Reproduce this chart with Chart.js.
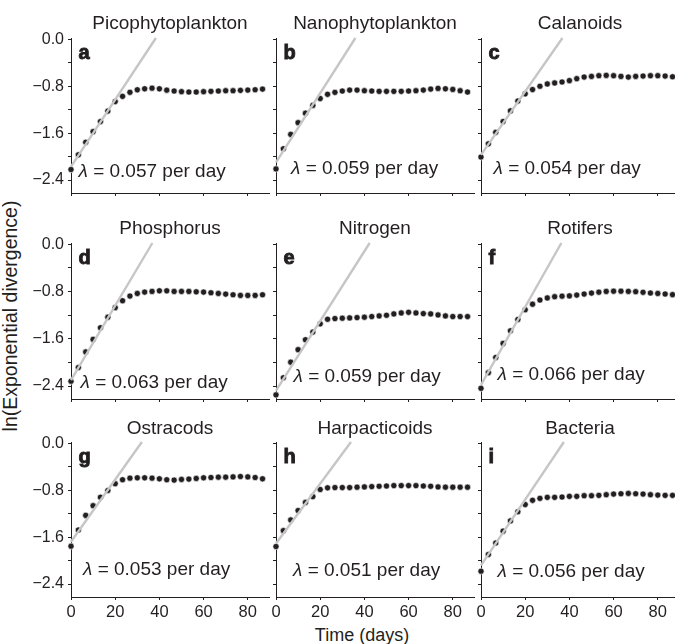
<!DOCTYPE html>
<html><head><meta charset="utf-8">
<script src="https://cdn.jsdelivr.net/npm/chart.js@4"></script>
<style>
html,body{margin:0;padding:0;width:675px;height:644px;overflow:hidden;background:#fff;position:relative;}
canvas{position:absolute;}
.lbl{position:absolute;font-family:"Liberation Sans",Arial,sans-serif;color:#231f20;font-size:18px;white-space:nowrap;}
</style></head><body>
<div class="lbl" style="left:10px;top:316px;font-size:19.5px;transform:translate(-50%,-50%) rotate(-90deg);">ln(Exponential divergence)</div>
<div class="lbl" style="left:362px;top:635px;transform:translate(-50%,-50%);">Time (days)</div>
<script>
// ---------- data ----------
const days = [0, 3.33, 6.67, 10, 13.33, 16.67, 20, 23.33, 26.67, 30, 33.33, 36.67, 40, 43.33, 46.67, 50, 53.33, 56.67, 60, 63.33, 66.67, 70, 73.33, 76.67, 80, 83.33, 86.67];
const titles = ["Picophytoplankton", "Nanophytoplankton", "Calanoids", "Phosphorus", "Nitrogen", "Rotifers", "Ostracods", "Harpacticoids", "Bacteria"];
const letters = ["a", "b", "c", "d", "e", "f", "g", "h", "i"];
const lambdas = [0.057, 0.059, 0.054, 0.063, 0.059, 0.066, 0.053, 0.051, 0.056];
const intercepts = [-2.17, -2.10, -1.97, -2.30, -2.48, -2.38, -1.68, -1.71, -2.08];
const xTicks = [0, 20, 40, 60, 80];
const yTicks = [-2.4, -2.0, -1.6, -1.2, -0.8, -0.4, 0.0];
const yLabelled = [-2.4, -1.6, -0.8, 0.0];

const pico = [-2.22, -1.97, -1.756, -1.575, -1.404, -1.225, -1.063, -0.974, -0.905, -0.862, -0.845, -0.835, -0.845, -0.868, -0.883, -0.894, -0.9, -0.9, -0.894, -0.889, -0.883, -0.878, -0.878, -0.872, -0.867, -0.861, -0.85];
const nano = [-2.21, -1.867, -1.622, -1.422, -1.261, -1.128, -1.011, -0.939, -0.906, -0.883, -0.867, -0.867, -0.878, -0.883, -0.889, -0.889, -0.889, -0.889, -0.883, -0.878, -0.867, -0.85, -0.839, -0.845, -0.856, -0.878, -0.9];
const calanoids = [-2.007, -1.783, -1.587, -1.402, -1.222, -1.054, -0.931, -0.858, -0.802, -0.763, -0.746, -0.729, -0.706, -0.673, -0.645, -0.634, -0.622, -0.617, -0.622, -0.634, -0.645, -0.634, -0.628, -0.622, -0.622, -0.628, -0.64];
const phosphorus = [-2.32, -2.087, -1.824, -1.611, -1.415, -1.236, -1.074, -0.957, -0.878, -0.834, -0.811, -0.8, -0.789, -0.789, -0.8, -0.8, -0.8, -0.806, -0.811, -0.822, -0.834, -0.845, -0.856, -0.867, -0.867, -0.867, -0.856];
const nitrogen = [-2.55, -2.26, -1.997, -1.785, -1.617, -1.488, -1.348, -1.27, -1.259, -1.253, -1.248, -1.242, -1.236, -1.225, -1.214, -1.203, -1.18, -1.164, -1.153, -1.164, -1.175, -1.18, -1.197, -1.214, -1.225, -1.225, -1.225];
const rotifers = [-2.44, -2.175, -1.918, -1.68, -1.467, -1.275, -1.11, -1.016, -0.945, -0.91, -0.889, -0.88, -0.875, -0.861, -0.844, -0.827, -0.812, -0.8, -0.796, -0.796, -0.799, -0.804, -0.814, -0.826, -0.834, -0.843, -0.854];
const ostracods = [-1.755, -1.479, -1.23, -1.065, -0.921, -0.806, -0.69, -0.623, -0.596, -0.59, -0.59, -0.596, -0.607, -0.623, -0.629, -0.618, -0.612, -0.601, -0.59, -0.585, -0.579, -0.579, -0.574, -0.568, -0.574, -0.585, -0.607];
const harpacticoids = [-1.76, -1.49, -1.308, -1.148, -1.01, -0.91, -0.789, -0.761, -0.756, -0.756, -0.756, -0.75, -0.745, -0.74, -0.734, -0.729, -0.723, -0.723, -0.723, -0.723, -0.729, -0.734, -0.745, -0.75, -0.75, -0.75, -0.75];
const bacteria = [-2.181, -1.896, -1.7, -1.498, -1.325, -1.168, -1.045, -0.973, -0.94, -0.923, -0.923, -0.917, -0.906, -0.906, -0.895, -0.895, -0.889, -0.878, -0.867, -0.861, -0.856, -0.861, -0.867, -0.878, -0.884, -0.889, -0.889];
const series = [pico, nano, calanoids, phosphorus, nitrogen, rotifers, ostracods, harpacticoids, bacteria];

// ---------- layout ----------
const X_MIN = 0, X_MAX = 89.6, Y_MIN = -2.62, Y_MAX = 0.02;
const colLeft = [71, 276, 481];
const rowTop = [38, 243, 442];
const rowH = [155, 156, 155];
const PLOT_W = 198, Y_AXIS_W = 50, PAD_TOP = 40, PAD_RIGHT = 12, X_AXIS_H = 40;
const lamPos = [[7.5, 139], [15, 135.5], [12.5, 135.5], [9.5, 145], [17.5, 138.5], [16.5, 137], [12, 133], [17, 134], [16.5, 134.5]];
const INK = '#231f20';
const FONT = '"Liberation Sans", Arial, Helvetica, sans-serif';

const annot = {
  id: 'annot',
  afterDatasetsDraw(chart, args, o) {
    const ctx = chart.ctx, a = chart.chartArea;
    ctx.save();
    ctx.fillStyle = INK; ctx.strokeStyle = INK;
    ctx.textBaseline = 'alphabetic';
    ctx.font = '19px ' + FONT;
    ctx.textAlign = 'center';
    ctx.fillText(o.title, (a.left + a.right) / 2, a.top + o.titleDy);
    ctx.textAlign = 'left';
    ctx.font = 'bold 20px ' + FONT;
    ctx.lineWidth = 0.9;
    ctx.fillText(o.letter, a.left + 7.5, a.top + 20.5);
    ctx.strokeText(o.letter, a.left + 7.5, a.top + 20.5);
    const lx = a.left + o.lam[0], ly = a.top + o.lam[1];
    ctx.font = 'italic 19px ' + FONT;
    ctx.fillText('\u03bb', lx, ly);
    const w = ctx.measureText('\u03bb').width;
    ctx.font = '19px ' + FONT;
    ctx.fillText(' = ' + o.lambda.toFixed(3) + ' per day', lx + w, ly);
    ctx.restore();
  }
};

for (let k = 0; k < 9; k++) {
  const r = Math.floor(k / 3), c = k % 3;
  const W = Y_AXIS_W + PLOT_W + PAD_RIGHT;
  const H = PAD_TOP + rowH[r] + X_AXIS_H;
  const cv = document.createElement('canvas');
  cv.width = W; cv.height = H;
  cv.style.left = (colLeft[c] - Y_AXIS_W) + 'px';
  cv.style.top = (rowTop[r] - PAD_TOP) + 'px';
  cv.style.width = W + 'px'; cv.style.height = H + 'px';
  document.body.appendChild(cv);

  const pts = days.map((d, i) => ({x: d, y: series[k][i]}));
  const xEnd = (Y_MAX - intercepts[k]) / lambdas[k];
  const fit = [{x: 0, y: intercepts[k]}, {x: xEnd, y: intercepts[k] + lambdas[k] * xEnd}];

  new Chart(cv, {
    type: 'scatter',
    data: {
      datasets: [
        {data: fit, showLine: true, borderColor: '#c6c6c6', borderWidth: 2.4, pointRadius: 0, order: 0, clip: false},
        {data: pts, showLine: false, pointRadius: 3.1, pointBackgroundColor: INK, pointBorderColor: '#ffffff', pointBorderWidth: 0.6, order: 2, clip: false}
      ]
    },
    options: {
      responsive: false, animation: false, devicePixelRatio: 1,
      layout: {padding: {top: PAD_TOP, right: PAD_RIGHT, left: 0, bottom: 0}},
      plugins: {
        legend: {display: false}, tooltip: {enabled: false},
        annot: {title: titles[k], letter: letters[k], lambda: lambdas[k], lam: lamPos[k], titleDy: r === 2 ? -8 : -9.5}
      },
      scales: {
        x: {
          type: 'linear', min: X_MIN, max: X_MAX,
          border: {color: INK, width: 1},
          grid: {drawOnChartArea: false, drawTicks: true, tickLength: 3, color: INK},
          ticks: {
            font: {size: 16.5, family: FONT}, color: INK, padding: 3, maxRotation: 0, autoSkip: false,
            callback: (v) => r === 2 ? String(v) : ''
          },
          afterBuildTicks: (s) => { s.ticks = xTicks.map(v => ({value: v})); },
          afterFit: (s) => { s.height = X_AXIS_H; }
        },
        y: {
          type: 'linear', min: Y_MIN, max: Y_MAX, position: 'left',
          border: {color: INK, width: 1},
          grid: {drawOnChartArea: false, drawTicks: true, tickLength: 3, color: INK},
          ticks: {
            font: {size: 16, family: FONT}, color: INK, padding: 4, autoSkip: false,
            callback: (v) => {
              if (c !== 0) return '';
              if (!yLabelled.some(t => Math.abs(t - v) < 1e-6)) return '';
              return Math.abs(v) < 1e-6 ? '0.0' : '\u2212' + Math.abs(v).toFixed(1);
            }
          },
          afterBuildTicks: (s) => { s.ticks = yTicks.map(v => ({value: v})); },
          afterFit: (s) => { s.width = Y_AXIS_W; }
        }
      }
    },
    plugins: [annot]
  });
}
</script>
</body></html>
